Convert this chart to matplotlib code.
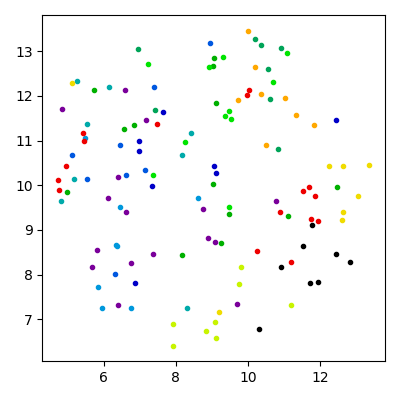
import matplotlib
matplotlib.use("Agg")
import matplotlib.pyplot as plt

# point coordinates per colour group
black_x = [11.79, 11.54, 12.45, 12.84, 10.93, 11.73, 11.93, 10.31]
black_y = [9.10, 8.63, 8.45, 8.29, 8.16, 7.82, 7.84, 6.79]

purple_x = [6.59, 4.84, 7.18, 6.40, 6.12, 6.62, 8.76, 10.79, 8.90, 9.09, 5.81, 7.37, 5.68, 6.76, 6.40, 9.70]
purple_y = [12.14, 11.70, 11.45, 10.19, 9.72, 9.39, 9.46, 9.64, 8.81, 8.72, 8.56, 8.45, 8.18, 8.25, 7.31, 7.35]

dblue_x = [7.65, 6.98, 6.98, 7.34, 9.06, 9.12, 12.45, 6.87]
dblue_y = [11.65, 11.00, 10.76, 9.99, 10.44, 10.28, 11.45, 7.82]

blue_x = [7.40, 8.95, 6.45, 5.12, 7.15, 6.62, 5.54, 6.31]
blue_y = [12.19, 13.19, 10.89, 10.67, 10.35, 10.24, 10.13, 8.02]

lblue_x = [5.48, 6.45, 8.62, 6.34, 6.37, 5.84, 5.95, 6.76]
lblue_y = [11.05, 9.52, 9.72, 8.67, 8.65, 7.71, 7.26, 7.26]

teal_x = [5.26, 6.15, 5.54, 8.43, 8.18, 5.18, 4.81, 8.31]
teal_y = [12.34, 12.19, 11.38, 11.18, 10.67, 10.15, 9.64, 7.26]

gteal_x = [6.95, 7.43, 10.20, 10.37, 10.93, 10.56, 10.62, 10.84]
gteal_y = [13.06, 11.69, 13.28, 13.15, 13.08, 12.61, 11.94, 10.82]

green_x = [5.73, 6.56, 6.84, 9.06, 9.04, 9.12, 4.98, 9.04, 9.48, 11.12, 12.48, 9.26, 8.18]
green_y = [12.14, 11.25, 11.36, 12.84, 12.68, 11.85, 9.84, 10.02, 9.35, 9.32, 9.95, 8.70, 8.43]

bgreen_x = [7.23, 9.31, 8.93, 11.09, 10.70, 9.48, 9.37, 9.54, 8.26, 7.37, 9.48]
bgreen_y = [12.72, 12.88, 12.64, 12.97, 12.32, 11.67, 11.56, 11.49, 10.96, 10.24, 9.52]

ygreen_x = [9.81, 9.76, 11.20, 7.93, 9.09, 8.84, 9.12, 7.93]
ygreen_y = [8.16, 7.78, 7.31, 6.90, 6.93, 6.73, 6.57, 6.41]

yellow_x = [5.12, 9.20, 12.26, 12.65, 13.37, 13.06, 12.65, 12.62]
yellow_y = [12.30, 7.17, 10.42, 10.44, 10.46, 9.75, 9.41, 9.23]

orange_x = [10.01, 10.20, 10.37, 9.73, 11.04, 11.34, 11.84, 10.51]
orange_y = [13.46, 12.64, 12.05, 11.92, 11.96, 11.58, 11.36, 10.91]

red_x = [10.04, 9.98, 7.48, 5.43, 5.45, 4.95, 4.73, 4.76, 11.70, 11.53, 11.87, 10.90, 11.76, 11.95, 11.18, 10.26]
red_y = [12.14, 12.03, 11.38, 11.16, 10.98, 10.42, 10.11, 9.89, 9.97, 9.86, 9.75, 9.41, 9.25, 9.19, 8.27, 8.52]

groups = [
    (black_x, black_y, '#000000'),
    (purple_x, purple_y, '#7a009a'),
    (dblue_x, dblue_y, '#0000c8'),
    (blue_x, blue_y, '#0058e0'),
    (lblue_x, lblue_y, '#0098dc'),
    (teal_x, teal_y, '#00aaaa'),
    (gteal_x, gteal_y, '#00a458'),
    (green_x, green_y, '#00b000'),
    (bgreen_x, bgreen_y, '#00e400'),
    (ygreen_x, ygreen_y, '#c8f400'),
    (yellow_x, yellow_y, '#f0dc00'),
    (orange_x, orange_y, '#ffa800'),
    (red_x, red_y, '#ee0000'),
]

fig, ax = plt.subplots(figsize=(4, 4), dpi=100)
for xs, ys, col in groups:
    ax.scatter(xs, ys, s=9, color=col, zorder=3)

ax.set_xticks([6, 8, 10, 12])
ax.set_yticks([7, 8, 9, 10, 11, 12, 13])
fig.tight_layout()
fig.savefig('out.png', dpi=100)
